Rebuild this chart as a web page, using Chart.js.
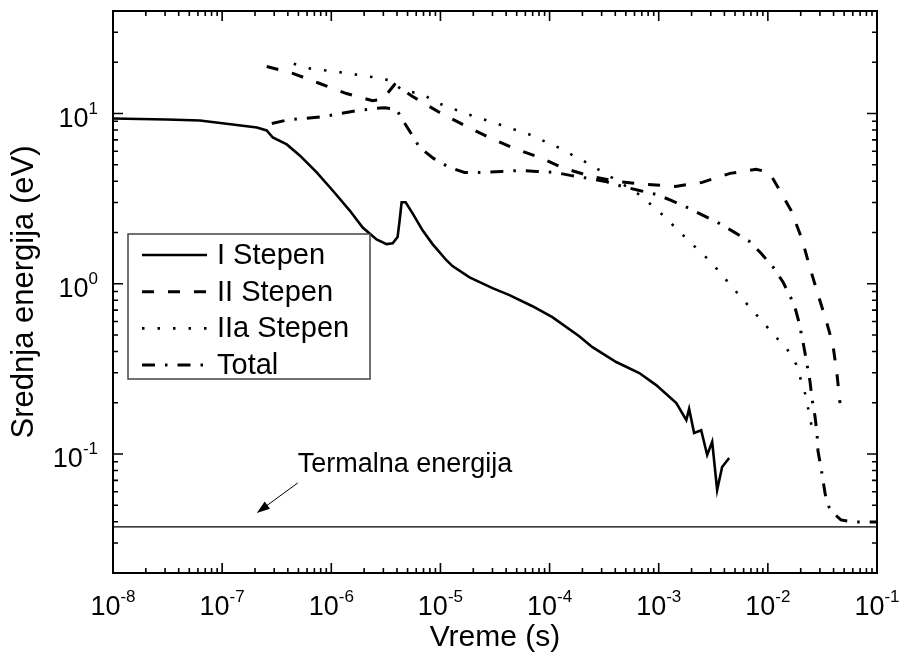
<!DOCTYPE html>
<html>
<head>
<meta charset="utf-8">
<title>Srednja energija</title>
<script src="https://cdn.jsdelivr.net/npm/chart.js@4.4.1/dist/chart.umd.min.js"></script>
<style>
  html, body { margin: 0; padding: 0; background: #fff; }
  #chartBox { width: 899px; height: 657px; }
</style>
</head>
<body>
<div id="chartBox"><canvas id="energyChart" width="899" height="657"></canvas></div>
<script>
const FONT = "'Liberation Sans', Arial, Helvetica, sans-serif";

// I Stepen
const stage1Time = [1e-8, 3.12e-8, 6.25e-8, 1.25e-7, 2.08e-7, 2.56e-7, 2.91e-7, 3.91e-7, 5.14e-7, 7.35e-7,
  1.03e-6, 1.47e-6, 1.94e-6, 2.60e-6, 3.21e-6, 3.65e-6, 4.05e-6, 4.23e-6, 4.41e-6, 4.80e-6,
  5.56e-6, 6.86e-6, 8.47e-6, 1.14e-5, 1.29e-5, 1.85e-5, 3.00e-5, 4.29e-5, 6.97e-5, 1.06e-4,
  1.87e-4, 2.47e-4, 4.08e-4, 6.64e-4, 9.48e-4, 1.45e-3, 1.79e-3, 1.90e-3, 2.11e-3, 2.45e-3,
  2.78e-3, 3.09e-3, 3.43e-3, 3.81e-3, 4.42e-3];
const stage1Energy = [9.35, 9.22, 9.10, 8.62, 8.27, 7.95, 7.23, 6.58, 5.67, 4.51,
  3.53, 2.70, 2.14, 1.82, 1.71, 1.73, 1.88, 2.36, 3.01, 3.01,
  2.59, 2.06, 1.71, 1.37, 1.27, 1.09, 0.942, 0.857, 0.738, 0.637,
  0.492, 0.424, 0.347, 0.299, 0.254, 0.199, 0.158, 0.184, 0.133, 0.138,
  0.0987, 0.118, 0.0615, 0.0839, 0.0948];

// II Stepen
const stage2Time = [2.56e-7, 4.44e-7, 7.83e-7, 1.38e-6, 2.39e-6, 2.95e-6, 3.80e-6, 5.56e-6, 9.40e-6, 1.66e-5,
  2.81e-5, 4.76e-5, 8.07e-5, 1.37e-4, 2.41e-4, 4.17e-4, 7.85e-4, 1.42e-3, 2.50e-3, 4.51e-3,
  7.80e-3, 1.03e-2, 1.24e-2, 1.63e-2, 2.06e-2, 2.38e-2, 2.82e-2, 3.48e-2, 3.95e-2, 4.30e-2, 4.58e-2];
const stage2Energy = [18.9, 17.2, 15.0, 13.1, 11.9, 12.1, 14.8, 12.6, 10.3, 8.51,
  7.23, 6.23, 5.52, 4.76, 4.27, 3.99, 3.83, 3.73, 3.94, 4.45,
  4.70, 4.51, 3.68, 2.70, 1.82, 1.30, 0.904, 0.586, 0.436, 0.294, 0.199];

// IIa Stepen
const stage2aTime = [4.53e-7, 6.34e-7, 1.27e-6, 2.49e-6, 3.57e-6, 4.50e-6, 6.71e-6, 9.20e-6, 1.81e-5, 3.47e-5,
  6.53e-5, 1.20e-4, 2.17e-4, 3.84e-4, 6.78e-4, 1.10e-3, 1.86e-3, 3.02e-3, 4.80e-3, 7.48e-3,
  1.19e-2, 1.50e-2, 1.81e-2, 2.01e-2, 2.23e-2, 2.38e-2, 2.54e-2];
const stage2aEnergy = [19.6, 18.4, 17.4, 16.3, 15.6, 13.6, 13.1, 11.6, 9.86, 8.61,
  7.53, 6.32, 5.16, 4.16, 3.31, 2.52, 1.80, 1.34, 0.942, 0.681,
  0.485, 0.413, 0.338, 0.272, 0.219, 0.174, 0.142];

// Total
const totalTime = [2.85e-7, 4.16e-7, 5.71e-7, 8.51e-7, 1.22e-6, 1.74e-6, 2.49e-6, 3.08e-6, 3.96e-6, 4.41e-6,
  5.32e-6, 6.44e-6, 8.65e-6, 1.21e-5, 1.66e-5, 2.53e-5, 3.62e-5, 5.30e-5, 7.57e-5, 1.11e-4,
  1.55e-4, 2.26e-4, 3.24e-4, 4.63e-4, 6.64e-4, 9.48e-4, 1.30e-3, 1.82e-3, 2.55e-3, 3.43e-3,
  4.91e-3, 6.73e-3, 8.66e-3, 1.12e-2, 1.38e-2, 1.63e-2, 1.78e-2, 1.93e-2, 2.14e-2, 2.28e-2,
  2.43e-2, 2.54e-2, 2.70e-2, 2.82e-2, 2.88e-2, 3.07e-2, 3.34e-2, 3.48e-2, 3.79e-2, 4.67e-2,
  6.15e-2, 1e-1];
const totalEnergy = [8.74, 9.22, 9.35, 9.60, 10.0, 10.4, 10.7, 10.8, 10.6, 9.35,
  7.74, 6.32, 5.45, 4.82, 4.51, 4.51, 4.57, 4.63, 4.57, 4.51,
  4.33, 4.16, 3.99, 3.73, 3.53, 3.35, 3.09, 2.81, 2.52, 2.30,
  2.01, 1.78, 1.51, 1.25, 1.02, 0.822, 0.718, 0.594, 0.425, 0.338,
  0.268, 0.210, 0.167, 0.133, 0.104, 0.0828, 0.0590, 0.0516, 0.0463, 0.0410,
  0.0399, 0.0399];

const thermalEnergy = 0.0373;
const timeRange = [1e-8, 1e-1];
const energyRange = [0.02, 40];
const xTickExponents = [-8, -7, -6, -5, -4, -3, -2, -1];
const yTickExponents = [-1, 0, 1];
const seriesNames = ['I Stepen', 'II Stepen', 'IIa Stepen', 'Total'];

// annotation anchor (data coords)
const thermalLabel = 'Termalna energija';
const thermalLabelAt = [4.93e-7, 0.0784];
const arrowFrom = [4.93e-7, 0.0676];
const arrowTo = [2.08e-7, 0.0451];

function toPoints(xs, ys) {
  return xs.map((x, i) => ({ x: x, y: ys[i] }));
}

function minorTicks(min, max) {
  const out = [];
  const lo = Math.floor(Math.log10(min));
  const hi = Math.ceil(Math.log10(max));
  for (let e = lo; e <= hi; e++) {
    for (let m = 2; m <= 9; m++) {
      const v = m * Math.pow(10, e);
      if (v > min && v < max) out.push(v);
    }
  }
  return out;
}

function drawPower(ctx, exp, x, y, align) {
  ctx.font = '27px ' + FONT;
  const baseW = ctx.measureText('10').width;
  ctx.font = '17px ' + FONT;
  const expText = String(exp);
  const expW = ctx.measureText(expText).width;
  const left = align === 'center' ? x - (baseW + expW) / 2 : x - (baseW + expW);
  ctx.textAlign = 'left';
  ctx.textBaseline = 'alphabetic';
  ctx.font = '27px ' + FONT;
  ctx.fillText('10', left, y);
  ctx.font = '17px ' + FONT;
  ctx.fillText(expText, left + baseW, y - 13);
}

const decorPlugin = {
  id: 'decor',
  afterDraw(chart) {
    const { ctx, chartArea: area, scales } = chart;
    const xs = scales.x, ys = scales.y;
    ctx.save();
    ctx.strokeStyle = '#000';
    ctx.fillStyle = '#000';
    ctx.setLineDash([]);

    // frame
    ctx.lineWidth = 2;
    ctx.strokeRect(area.left, area.top, area.right - area.left, area.bottom - area.top);

    // ticks, pointing inwards on all four sides
    ctx.lineWidth = 1.6;
    ctx.beginPath();
    xTickExponents.forEach(e => {
      const px = xs.getPixelForValue(Math.pow(10, e));
      ctx.moveTo(px, area.bottom); ctx.lineTo(px, area.bottom - 10);
      ctx.moveTo(px, area.top); ctx.lineTo(px, area.top + 10);
    });
    minorTicks(timeRange[0], timeRange[1]).forEach(v => {
      const px = xs.getPixelForValue(v);
      ctx.moveTo(px, area.bottom); ctx.lineTo(px, area.bottom - 5);
      ctx.moveTo(px, area.top); ctx.lineTo(px, area.top + 5);
    });
    yTickExponents.forEach(e => {
      const py = ys.getPixelForValue(Math.pow(10, e));
      ctx.moveTo(area.left, py); ctx.lineTo(area.left + 10, py);
      ctx.moveTo(area.right, py); ctx.lineTo(area.right - 10, py);
    });
    minorTicks(energyRange[0], energyRange[1]).forEach(v => {
      const py = ys.getPixelForValue(v);
      ctx.moveTo(area.left, py); ctx.lineTo(area.left + 5, py);
      ctx.moveTo(area.right, py); ctx.lineTo(area.right - 5, py);
    });
    ctx.stroke();

    // tick labels
    xTickExponents.forEach(e => {
      drawPower(ctx, e, xs.getPixelForValue(Math.pow(10, e)), area.bottom + 42, 'center');
    });
    yTickExponents.forEach(e => {
      const py = ys.getPixelForValue(Math.pow(10, e));
      drawPower(ctx, e, area.left - 15, py + 13, 'right');
    });

    // legend
    const lx = area.left + 15, ly = area.top + 223;
    ctx.fillStyle = '#fff';
    ctx.fillRect(lx, ly, 242, 145);
    ctx.strokeStyle = '#444';
    ctx.lineWidth = 1.5;
    ctx.strokeRect(lx, ly, 242, 145);
    ctx.strokeStyle = '#000';
    ctx.fillStyle = '#000';
    ctx.font = '29px ' + FONT;
    ctx.textAlign = 'left';
    ctx.textBaseline = 'middle';
    seriesNames.forEach((name, i) => {
      const ds = chart.data.datasets[i];
      const ry = ly + 21 + i * 36.7;
      ctx.lineWidth = ds.borderWidth;
      ctx.setLineDash(ds.borderDash || []);
      ctx.beginPath();
      ctx.moveTo(lx + 14, ry);
      ctx.lineTo(lx + 79, ry);
      ctx.stroke();
      ctx.setLineDash([]);
      ctx.fillText(name, lx + 89, ry + 1);
    });

    // thermal energy annotation
    ctx.font = '27px ' + FONT;
    ctx.textBaseline = 'alphabetic';
    ctx.fillText(thermalLabel, xs.getPixelForValue(thermalLabelAt[0]), ys.getPixelForValue(thermalLabelAt[1]));
    const ax0 = xs.getPixelForValue(arrowFrom[0]), ay0 = ys.getPixelForValue(arrowFrom[1]);
    const ax1 = xs.getPixelForValue(arrowTo[0]), ay1 = ys.getPixelForValue(arrowTo[1]);
    const ang = Math.atan2(ay1 - ay0, ax1 - ax0);
    ctx.lineWidth = 1;
    ctx.beginPath();
    ctx.moveTo(ax0, ay0);
    ctx.lineTo(ax1 - 8 * Math.cos(ang), ay1 - 8 * Math.sin(ang));
    ctx.stroke();
    ctx.beginPath();
    ctx.moveTo(ax1, ay1);
    ctx.lineTo(ax1 - 13 * Math.cos(ang) + 4.5 * Math.sin(ang), ay1 - 13 * Math.sin(ang) - 4.5 * Math.cos(ang));
    ctx.lineTo(ax1 - 13 * Math.cos(ang) - 4.5 * Math.sin(ang), ay1 - 13 * Math.sin(ang) + 4.5 * Math.cos(ang));
    ctx.closePath();
    ctx.fill();

    ctx.restore();
  }
};

const lineBase = { fill: false, pointRadius: 0, tension: 0, borderColor: '#000', borderCapStyle: 'butt' };

new Chart(document.getElementById('energyChart').getContext('2d'), {
  type: 'line',
  data: {
    datasets: [
      Object.assign({ label: seriesNames[0], data: toPoints(stage1Time, stage1Energy), borderWidth: 2.6 }, lineBase),
      Object.assign({ label: seriesNames[1], data: toPoints(stage2Time, stage2Energy), borderWidth: 3, borderDash: [12, 14] }, lineBase),
      Object.assign({ label: seriesNames[2], data: toPoints(stage2aTime, stage2aEnergy), borderWidth: 2.6, borderDash: [2.5, 13] }, lineBase),
      Object.assign({ label: seriesNames[3], data: toPoints(totalTime, totalEnergy), borderWidth: 3, borderDash: [13, 10, 2.5, 10] }, lineBase),
      Object.assign({ label: 'thermal', data: toPoints(timeRange, [thermalEnergy, thermalEnergy]), borderWidth: 1.4 }, lineBase)
    ]
  },
  options: {
    responsive: false,
    devicePixelRatio: 1,
    animation: false,
    events: [],
    layout: { padding: { top: 11, right: 22, left: 0, bottom: 0 } },
    plugins: { legend: { display: false }, tooltip: { enabled: false } },
    scales: {
      x: {
        type: 'logarithmic',
        min: timeRange[0],
        max: timeRange[1],
        grid: { display: false },
        border: { display: false },
        ticks: { display: false },
        title: { display: true, text: 'Vreme (s)', color: '#000', font: { family: FONT, size: 30 }, padding: { top: 0, bottom: 1 } },
        afterFit(scale) { scale.height = 84; }
      },
      y: {
        type: 'logarithmic',
        min: energyRange[0],
        max: energyRange[1],
        grid: { display: false },
        border: { display: false },
        ticks: { display: false },
        title: { display: true, text: 'Srednja energija (eV)', color: '#000', font: { family: FONT, size: 31 }, padding: { top: 6, bottom: 0 } },
        afterFit(scale) { scale.width = 113; }
      }
    }
  },
  plugins: [decorPlugin]
});
</script>
</body>
</html>
